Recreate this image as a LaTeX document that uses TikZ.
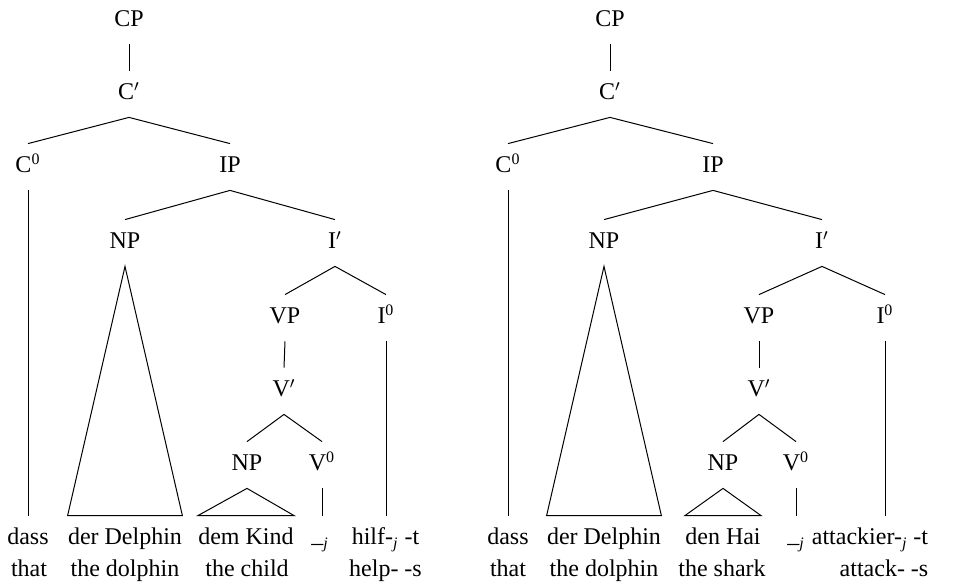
\documentclass[tikz,border=0pt]{standalone}
\usepackage{fontspec}
\setmainfont{Liberation Serif}
\newcommand\trc{\raisebox{1.3pt}{\_}\textsubscript{\itshape j}}
\newcommand\treeedge[2]{\draw[edge] ([yshift=-8.5pt]#1.south) -- ([yshift=6.5pt]#2.north);}
\begin{document}
\begin{tikzpicture}[x=0.5pt,y=-0.5pt,
  lab/.style={inner sep=0pt, text height=8pt, text depth=0pt, anchor=base,
    font=\fontsize{12pt}{14pt}\selectfont},
  edge/.style={line width=0.5pt}]
\useasboundingbox (0,0) rectangle (955,588);

% ---------------- left tree ----------------
\node[lab] (CPa) at (129,27) {CP};
\node[lab] (Cba) at (129,100) {C$'$};
\node[lab] (C0a) at (28,173) {C\textsuperscript{0}};
\node[lab] (IPa) at (230,173) {IP};
\node[lab] (NPa) at (125,249) {NP};
\node[lab] (Iba) at (335,249) {I$'$};
\node[lab] (VPa) at (285,324) {VP};
\node[lab] (I0a) at (386,324) {I\textsuperscript{0}};
\node[lab] (Vba) at (284,397) {V$'$};
\node[lab] (NPsa) at (247,471) {NP};
\node[lab] (V0a) at (322,471) {V\textsuperscript{0}};

\node[lab] (w1a) at (28,545) {dass};
\node[lab] (w2a) at (125,545) {der Delphin};
\node[lab] (w3a) at (246,545) {dem Kind};
\node[lab] (w4a) at (320,545) {\trc};
\node[lab] (w5a) at (385.5,545) {hilf-\textsubscript{\itshape j} -t};
\node[lab] (g1a) at (29,577) {that};
\node[lab] (g2a) at (125,577) {the dolphin};
\node[lab] (g3a) at (247,577) {the child};
\node[lab] (g5a) at (385.5,577) {help- -s};

\treeedge{CPa}{Cba}
\treeedge{Cba}{C0a}
\treeedge{Cba}{IPa}
\treeedge{IPa}{NPa}
\treeedge{IPa}{Iba}
\treeedge{Iba}{VPa}
\treeedge{Iba}{I0a}
\treeedge{VPa}{Vba}
\treeedge{Vba}{NPsa}
\treeedge{Vba}{V0a}
\draw[edge] ([yshift=-8.5pt]C0a.south) -- ([yshift=6.5pt]C0a.south |- w1a.north);
\draw[edge] ([yshift=-8.5pt]I0a.south) -- ([yshift=6.5pt]I0a.south |- w5a.north);
\draw[edge] ([yshift=-8.5pt]V0a.south) -- ([yshift=6.5pt]V0a.south |- w4a.north);
\draw[edge] ([yshift=-8.5pt]NPa.south) -- ([yshift=6.5pt]w2a.north west) -- ([yshift=6.5pt]w2a.north east) -- cycle;
\draw[edge] ([yshift=-8.5pt]NPsa.south) -- ([yshift=6.5pt]w3a.north west) -- ([yshift=6.5pt]w3a.north east) -- cycle;

% ---------------- right tree ----------------
\node[lab] (CPb) at (610,27) {CP};
\node[lab] (Cbb) at (610,100) {C$'$};
\node[lab] (C0b) at (508,173) {C\textsuperscript{0}};
\node[lab] (IPb) at (713,173) {IP};
\node[lab] (NPb) at (604,249) {NP};
\node[lab] (Ibb) at (822,249) {I$'$};
\node[lab] (VPb) at (759,324) {VP};
\node[lab] (I0b) at (885,324) {I\textsuperscript{0}};
\node[lab] (Vbb) at (759,397) {V$'$};
\node[lab] (NPsb) at (723,471) {NP};
\node[lab] (V0b) at (796,471) {V\textsuperscript{0}};

\node[lab] (w1b) at (508,545) {dass};
\node[lab] (w2b) at (604,545) {der Delphin};
\node[lab] (w3b) at (723,545) {den Hai};
\node[lab] (w4b) at (796,545) {\trc};
\node[lab] (w5b) at (870,545) {attackier-\textsubscript{\itshape j} -t};
\node[lab] (g1b) at (508,577) {that};
\node[lab] (g2b) at (604,577) {the dolphin};
\node[lab] (g3b) at (722,577) {the shark};
\node[lab] (g5b) at (884,577) {attack- -s};

\treeedge{CPb}{Cbb}
\treeedge{Cbb}{C0b}
\treeedge{Cbb}{IPb}
\treeedge{IPb}{NPb}
\treeedge{IPb}{Ibb}
\treeedge{Ibb}{VPb}
\treeedge{Ibb}{I0b}
\treeedge{VPb}{Vbb}
\treeedge{Vbb}{NPsb}
\treeedge{Vbb}{V0b}
\draw[edge] ([yshift=-8.5pt]C0b.south) -- ([yshift=6.5pt]C0b.south |- w1b.north);
\draw[edge] ([yshift=-8.5pt]I0b.south) -- ([yshift=6.5pt]I0b.south |- w5b.north);
\draw[edge] ([yshift=-8.5pt]V0b.south) -- ([yshift=6.5pt]V0b.south |- w4b.north);
\draw[edge] ([yshift=-8.5pt]NPb.south) -- ([yshift=6.5pt]w2b.north west) -- ([yshift=6.5pt]w2b.north east) -- cycle;
\draw[edge] ([yshift=-8.5pt]NPsb.south) -- ([yshift=6.5pt]w3b.north west) -- ([yshift=6.5pt]w3b.north east) -- cycle;
\end{tikzpicture}
\end{document}
